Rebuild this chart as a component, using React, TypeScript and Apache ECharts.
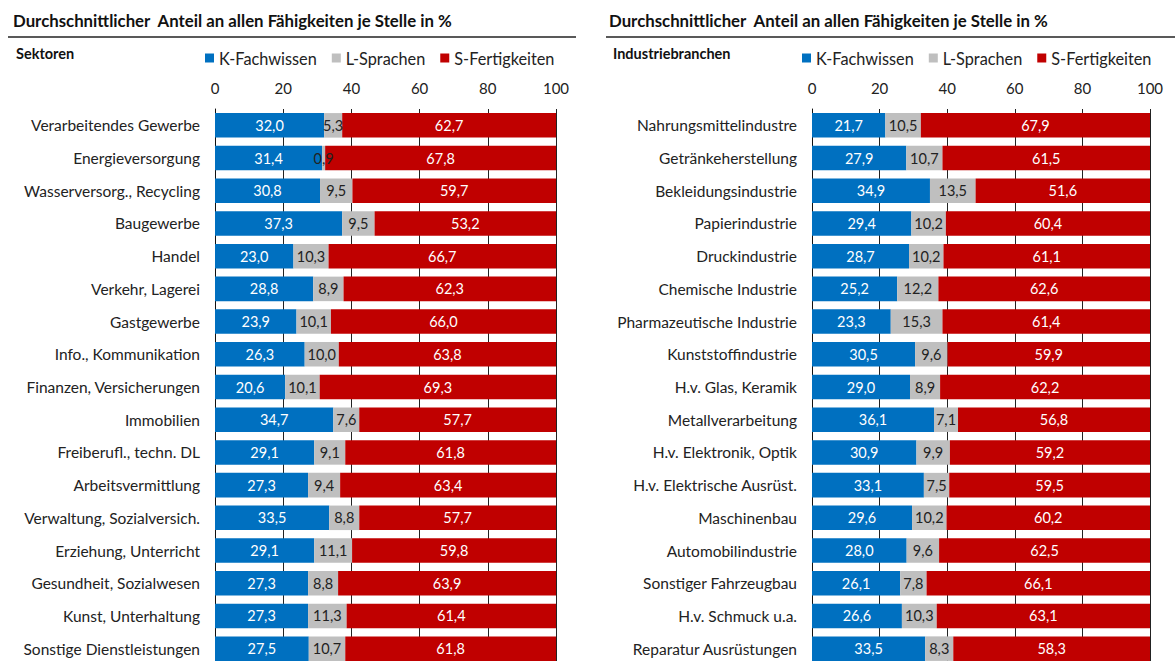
import React, { useEffect, useRef } from "react";
import * as echarts from "echarts";

const sektoren = ["Verarbeitendes Gewerbe","Energieversorgung","Wasserversorg., Recycling","Baugewerbe","Handel","Verkehr, Lagerei","Gastgewerbe","Info., Kommunikation","Finanzen, Versicherungen","Immobilien","Freiberufl., techn. DL","Arbeitsvermittlung","Verwaltung, Sozialversich.","Erziehung, Unterricht","Gesundheit, Sozialwesen","Kunst, Unterhaltung","Sonstige Dienstleistungen"];
const sekK = [32.0,31.4,30.8,37.3,23.0,28.8,23.9,26.3,20.6,34.7,29.1,27.3,33.5,29.1,27.3,27.3,27.5];
const sekL = [5.3,0.9,9.5,9.5,10.3,8.9,10.1,10.0,10.1,7.6,9.1,9.4,8.8,11.1,8.8,11.3,10.7];
const sekS = [62.7,67.8,59.7,53.2,66.7,62.3,66.0,63.8,69.3,57.7,61.8,63.4,57.7,59.8,63.9,61.4,61.8];

const branchen = ["Nahrungsmittelindustre","Getränkeherstellung","Bekleidungsindustrie","Papierindustrie","Druckindustrie","Chemische Industrie","Pharmazeutische Industrie","Kunststoffindustrie","H.v. Glas, Keramik","Metallverarbeitung","H.v. Elektronik, Optik","H.v. Elektrische Ausrüst.","Maschinenbau","Automobilindustrie","Sonstiger Fahrzeugbau","H.v. Schmuck u.a.","Reparatur Ausrüstungen"];
const brK = [21.7,27.9,34.9,29.4,28.7,25.2,23.3,30.5,29.0,36.1,30.9,33.1,29.6,28.0,26.1,26.6,33.5];
const brL = [10.5,10.7,13.5,10.2,10.2,12.2,15.3,9.6,8.9,7.1,9.9,7.5,10.2,9.6,7.8,10.3,8.3];
const brS = [67.9,61.5,51.6,60.4,61.1,62.6,61.4,59.9,62.2,56.8,59.2,59.5,60.2,62.5,66.1,63.1,58.3];

const xTicks = [0, 20, 40, 60, 80, 100];
const seriesNames = ["K-Fachwissen", "L-Sprachen", "S-Fertigkeiten"];
const titleText = "Durchschnittlicher  Anteil an allen Fähigkeiten je Stelle in %";

const FONT = "Lato, 'Noto Sans', sans-serif";
const COLORS = ["#0070C0", "#BFBFBF", "#C00000"];

export default function App() {
  const ref = useRef<HTMLDivElement>(null);
  useEffect(() => {
    if (!ref.current) return;
    const chart = echarts.init(ref.current, undefined, { renderer: "svg" });
    const fmt = (p: any) => Number(p.value).toFixed(1).replace(".", ",");
    const mkX = (gi: number) => ({
      type: "value",
      gridIndex: gi,
      position: "top",
      min: xTicks[0],
      max: xTicks[xTicks.length - 1],
      interval: 20,
      axisLine: { show: false },
      axisTick: { show: false },
      axisLabel: { color: "#222", fontSize: 15, fontFamily: FONT, margin: 14 },
      splitLine: { show: true, lineStyle: { color: "#222", width: 1 } },
    });
    const mkY = (gi: number, cats: string[]) => ({
      type: "category",
      gridIndex: gi,
      data: cats,
      inverse: true,
      axisLine: { show: true, lineStyle: { color: "#111", width: 1 } },
      axisTick: { show: false },
      axisLabel: { color: "#222", fontSize: 15.5, fontFamily: FONT, margin: 15 },
    });
    const mkSeries = (gi: number, arrs: number[][]) =>
      arrs.map((d, i) => ({
        type: "bar",
        name: seriesNames[i],
        xAxisIndex: gi,
        yAxisIndex: gi,
        stack: "s" + gi,
        data: d,
        barWidth: "75%",
        itemStyle: { color: COLORS[i] },
        label: {
          show: true,
          position: "inside",
          formatter: fmt,
          color: i === 1 ? "#222" : "#fff",
          fontSize: 14.5,
          fontFamily: FONT,
        },
      }));
    const legendBase = {
      data: seriesNames,
      top: 45,
      icon: "rect",
      itemWidth: 9,
      itemHeight: 9,
      itemGap: 15,
      textStyle: { fontSize: 16.3, color: "#222", fontFamily: FONT },
    };
    chart.setOption({
      animation: false,
      textStyle: { fontFamily: FONT },
      title: [
        { text: titleText, left: 8, top: 7, textStyle: { fontSize: 16.8, fontWeight: "bold", color: "#111", fontFamily: FONT } },
        { text: titleText, left: 604, top: 7, textStyle: { fontSize: 16.8, fontWeight: "bold", color: "#111", fontFamily: FONT } },
        { text: "Sektoren", left: 11, top: 41, textStyle: { fontSize: 14.5, fontWeight: "bold", color: "#111", fontFamily: FONT } },
        { text: "Industriebranchen", left: 608, top: 41, textStyle: { fontSize: 14.5, fontWeight: "bold", color: "#111", fontFamily: FONT } },
      ],
      graphic: [
        { type: "line", shape: { x1: 8, y1: 37, x2: 576, y2: 37 }, style: { stroke: "#222", lineWidth: 1.5 } },
        { type: "line", shape: { x1: 606, y1: 37, x2: 1175, y2: 37 }, style: { stroke: "#222", lineWidth: 1.5 } },
      ],
      legend: [
        { ...legendBase, left: 200 },
        { ...legendBase, left: 797 },
      ],
      grid: [
        { left: 215, width: 341, top: 109, height: 556, outerBoundsMode: "none" },
        { left: 812, width: 338, top: 109, height: 556, outerBoundsMode: "none" },
      ],
      xAxis: [mkX(0), mkX(1)],
      yAxis: [mkY(0, sektoren), mkY(1, branchen)],
      series: [...mkSeries(0, [sekK, sekL, sekS]), ...mkSeries(1, [brK, brL, brS])],
    });
    return () => chart.dispose();
  }, []);
  return (
    <div
      ref={ref}
      style={{ position: "fixed", left: 0, top: 0, width: 1175, height: 661, background: "#fff" }}
    />
  );
}
